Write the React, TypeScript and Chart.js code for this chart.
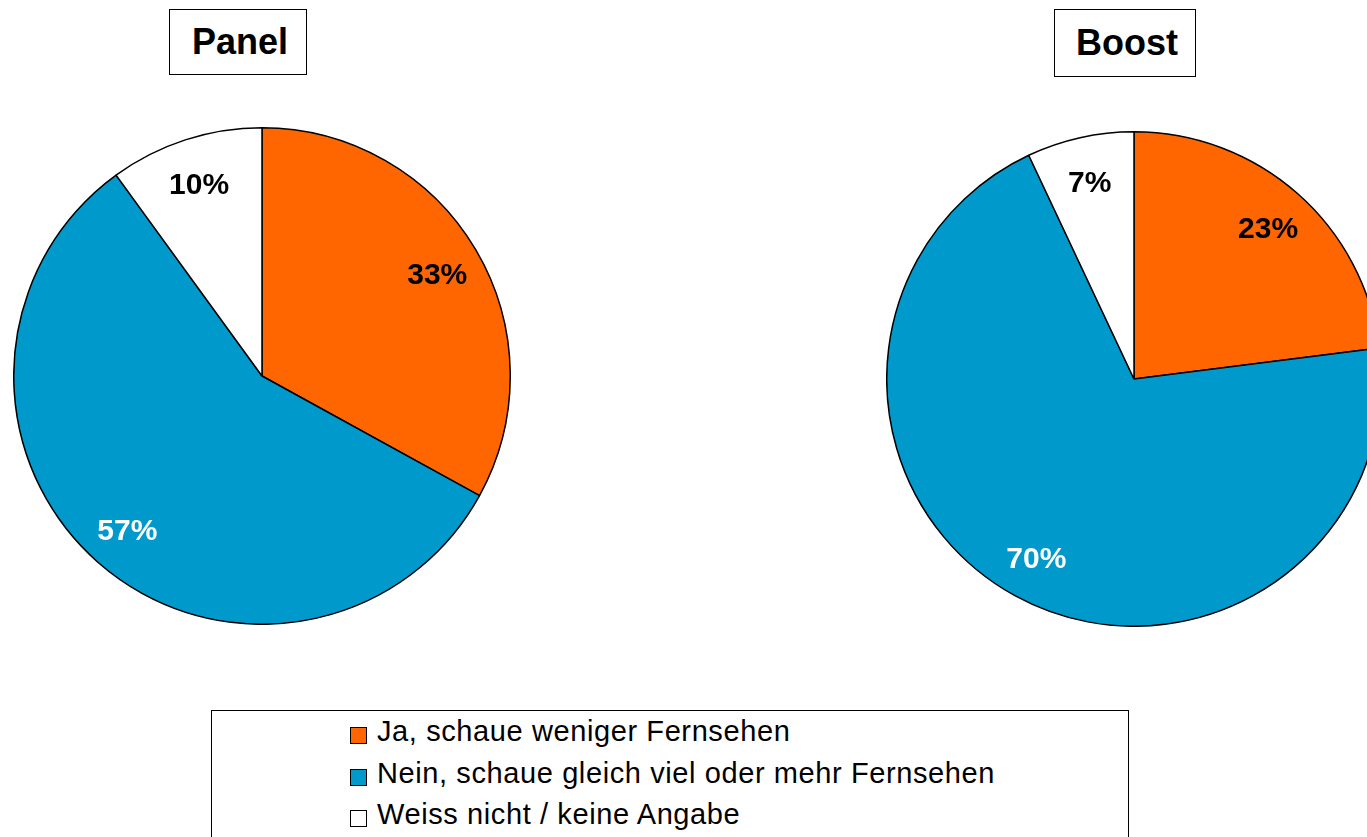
import React, { useEffect, useRef } from "react";
import { Chart, registerables } from "chart.js";

Chart.register(...registerables);

const categories = [
  "Ja, schaue weniger Fernsehen",
  "Nein, schaue gleich viel oder mehr Fernsehen",
  "Weiss nicht / keine Angabe",
];
const panelValues = [33, 57, 10];
const boostValues = [23, 70, 7];
const sliceColors = ["#FF6600", "#0099CC", "#FFFFFF"];
const labelColors = ["#000000", "#FFFFFF", "#000000"];
const panelTitle = "Panel";
const boostTitle = "Boost";

const FONT = '"Liberation Sans", Arial, Helvetica, sans-serif';

const pctLabels = {
  id: "pctLabels",
  afterDatasetsDraw(chart: any) {
    const ctx = chart.ctx;
    const meta = chart.getDatasetMeta(0);
    const data = chart.data.datasets[0].data as number[];
    ctx.save();
    ctx.font = `bold 30px ${FONT}`;
    ctx.textAlign = "center";
    ctx.textBaseline = "middle";
    meta.data.forEach((arc: any, i: number) => {
      const p = arc.getProps(["x", "y", "startAngle", "endAngle", "outerRadius"], true);
      const mid = (p.startAngle + p.endAngle) / 2;
      const r = p.outerRadius * 0.82;
      ctx.fillStyle = labelColors[i];
      ctx.fillText(`${data[i]}%`, p.x + Math.cos(mid) * r, p.y + Math.sin(mid) * r + 3);
    });
    ctx.restore();
  },
};

function PieCanvas({ values, left, top, size }: { values: number[]; left: number; top: number; size: number }) {
  const ref = useRef<HTMLCanvasElement | null>(null);
  useEffect(() => {
    if (!ref.current) return;
    const chart = new Chart(ref.current, {
      type: "pie",
      data: {
        labels: categories,
        datasets: [
          {
            data: values,
            backgroundColor: sliceColors,
            borderColor: "#000000",
            borderWidth: 1.5,
          },
        ],
      },
      options: {
        responsive: false,
        animation: false,
        layout: { padding: 0 },
        plugins: { legend: { display: false }, tooltip: { enabled: false } },
      },
      plugins: [pctLabels],
    } as any);
    return () => chart.destroy();
  }, [values]);
  return (
    <canvas
      ref={ref}
      width={size}
      height={size}
      style={{ position: "absolute", left, top, width: size, height: size }}
    />
  );
}

function TitleBox({ text, left, top, width, height }: { text: string; left: number; top: number; width: number; height: number }) {
  return (
    <div
      style={{
        position: "absolute",
        left,
        top,
        width,
        height,
        boxSizing: "border-box",
        border: "1.5px solid #000",
        background: "#fff",
        display: "flex",
        alignItems: "center",
        justifyContent: "center",
        font: `bold 36px ${FONT}`,
        color: "#000",
        paddingLeft: 4,
      }}
    >
      {text}
    </div>
  );
}

export default function App() {
  return (
    <div
      style={{
        position: "fixed",
        left: 0,
        top: 0,
        width: 1367,
        height: 837,
        overflow: "hidden",
        background: "#fff",
      }}
    >
      <PieCanvas values={panelValues} left={13} top={127} size={498} />
      <PieCanvas values={boostValues} left={886} top={131} size={496} />
      <TitleBox text={panelTitle} left={169} top={9} width={138} height={66} />
      <TitleBox text={boostTitle} left={1054} top={9} width={142} height={68} />
      <div
        style={{
          position: "absolute",
          left: 211,
          top: 710,
          width: 918,
          height: 200,
          boxSizing: "border-box",
          border: "1.5px solid #000",
          background: "#fff",
        }}
      />
      {categories.map((c, i) => {
        const cy = 735 + i * 41.5;
        return (
          <React.Fragment key={c}>
            <div
              style={{
                position: "absolute",
                left: 350,
                top: cy - 8,
                width: 17,
                height: 17,
                boxSizing: "border-box",
                border: "1.5px solid #000",
                background: sliceColors[i],
              }}
            />
            <div
              style={{
                position: "absolute",
                left: 377,
                top: cy - 20,
                height: 40,
                lineHeight: "40px",
                font: `29px ${FONT}`,
                letterSpacing: "0.6px",
                whiteSpace: "nowrap",
                color: "#000",
              }}
            >
              {c}
            </div>
          </React.Fragment>
        );
      })}
    </div>
  );
}
